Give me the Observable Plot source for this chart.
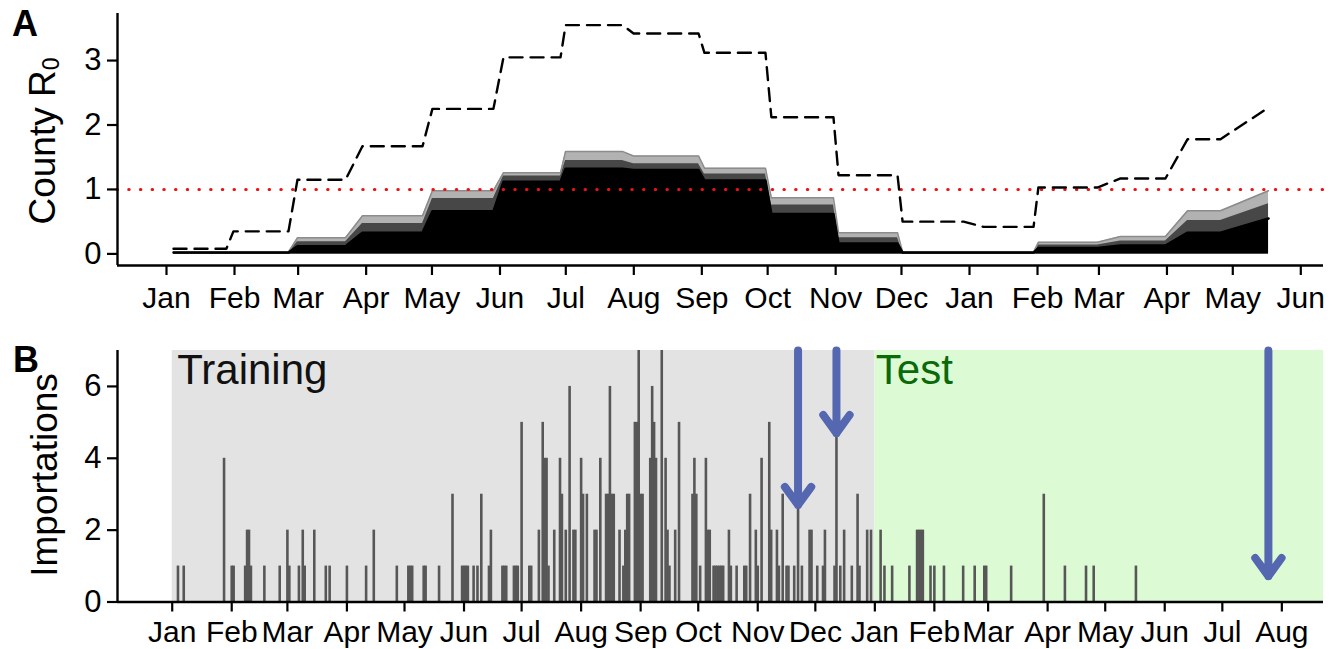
<!DOCTYPE html>
<html><head><meta charset="utf-8">
<script src="https://cdn.jsdelivr.net/npm/d3@7"></script>
<script src="https://cdn.jsdelivr.net/npm/@observablehq/plot@0.6"></script>
<style>
html,body{margin:0;padding:0;background:#fff;}
#fig{position:relative;width:1341px;height:649px;overflow:hidden;background:#fff;}
#fig svg{position:absolute;left:0;display:block;}
</style></head><body><div id="fig"></div>
<script>
// ---------------- data ----------------
const monthNames = ["Jan","Feb","Mar","Apr","May","Jun","Jul","Aug","Sep","Oct","Nov","Dec"];
const ticksA = ["2016-01-01","2016-02-01","2016-03-01","2016-04-01","2016-05-01","2016-06-01","2016-07-01","2016-08-01","2016-09-01","2016-10-01","2016-11-01","2016-12-01","2017-01-01","2017-02-01","2017-03-01","2017-04-01","2017-05-01","2017-06-01"];
const ticksB = ["2016-01-01","2016-02-01","2016-03-01","2016-04-01","2016-05-01","2016-06-01","2016-07-01","2016-08-01","2016-09-01","2016-10-01","2016-11-01","2016-12-01","2017-01-01","2017-02-01","2017-03-01","2017-04-01","2017-05-01","2017-06-01","2017-07-01","2017-08-01"];
const yTicksA = [0, 1, 2, 3];
const yTicksB = [0, 2, 4, 6];

// Panel A: monthly R0 segments (days since 2016-01-01: start and end of each flat segment)
const segStartDay = [3.2, 30.5, 59.7, 89.3, 121.2, 153.6, 181.9, 212.9, 245.2, 275.7, 306.3, 335.5, 372.4, 397.4, 434.8, 465.4, 502.3];
const segEndDay   = [27.3, 55.6, 81.6, 116.7, 149.0, 179.6, 207.8, 242.5, 273.0, 304.0, 333.2, 363.3, 395.2, 424.3, 455.3, 480.4, 502.3];
const r0Max     = [0.08, 0.35, 1.15, 1.67, 2.25, 3.05, 3.55, 3.42, 3.12, 2.12, 1.22, 0.50, 0.42, 1.03, 1.17, 1.78, 2.27];
const bandTop   = [0.03, 0.03, 0.25, 0.59, 0.98, 1.26, 1.59, 1.52, 1.33, 0.87, 0.33, 0.03, 0.03, 0.18, 0.27, 0.67, 0.98];
const bandMid   = [0.02, 0.02, 0.19, 0.47, 0.86, 1.21, 1.45, 1.40, 1.24, 0.76, 0.25, 0.02, 0.02, 0.14, 0.20, 0.52, 0.78];
const bandDense = [0.02, 0.02, 0.12, 0.33, 0.66, 1.12, 1.32, 1.30, 1.14, 0.62, 0.16, 0.02, 0.02, 0.09, 0.13, 0.33, 0.55];
const threshold = 1;

// Panel B: daily importations (days since 2016-01-01, counts)
const importDay = [3,6,27,31,32,38,39,40,41,48,56,60,61,66,68,69,74,80,82,91,101,105,117,123,124,125,131,132,139,
  146,151,152,153,154,157,159,161,165,166,172,173,174,178,179,180,182,186,187,191,193,194,195,196,199,
  202,203,205,207,209,210,213,214,216,220,221,223,226,227,228,229,230,233,235,236,237,238,241,242,243,244,245,
  249,250,251,252,255,257,258,259,262,264,271,272,273,275,278,279,280,282,283,284,285,286,287,290,291,294,
  298,299,301,304,305,307,311,312,315,316,318,320,321,324,326,328,332,333,336,339,340,345,346,348,350,354,357,358,362,364,
  369,371,375,384,388,389,390,391,395,397,402,412,418,423,424,437,454,465,476,480,502];
const importCount = [1,1,4,1,1,1,2,2,1,1,1,2,1,1,2,1,2,1,1,1,1,2,1,1,1,1,1,1,1,
  3,1,1,1,1,1,1,3,1,2,1,1,1,1,1,1,5,1,1,2,5,4,4,1,2,
  4,3,2,6,2,2,4,3,3,2,2,4,3,3,6,3,3,2,1,2,3,3,5,5,7,3,3,
  4,6,5,4,7,4,2,1,2,5,3,4,3,1,4,2,2,1,1,1,1,1,1,2,1,1,
  1,1,3,2,1,4,5,2,2,1,3,1,1,1,3,1,2,2,1,1,2,1,5,1,2,1,3,1,2,2,
  2,1,1,1,2,2,2,2,1,1,1,1,1,1,1,1,3,1,1,1,1];
const periodName  = ["Training", "Test"];
const periodStart = ["2016-01-01", "2017-01-01"];
const arrowDay = [326, 346, 571];
const arrowTip = [2.7, 4.7, 0.72];

// ---------------- helpers ----------------
const t0 = Date.UTC(2016, 0, 1);
const day = d => new Date(t0 + d * 864e5);
const monthFmt = d => monthNames[d.getUTCMonth()];
const intFmt = d => String(d);
const FONT = "'Liberation Sans', Arial, Helvetica, sans-serif";

const bandRows = [];
const r0Rows = [];
segStartDay.forEach((s, i) => {
  const e = segEndDay[i];
  const pts = e > s ? [s, e] : [s];
  pts.forEach(d => {
    bandRows.push({date: day(d), top: bandTop[i], mid: bandMid[i], dense: bandDense[i]});
    r0Rows.push({date: day(d), v: r0Max[i]});
  });
});
const imports = importDay.map((d, i) => ({date: day(d), n: importCount[i]}));
const arrows = arrowDay.map((d, i) => ({date: day(d), tip: arrowTip[i]}));

// ---------------- panel A ----------------
const xDomA = [day(-22.33), day(527.35)];
const yDomA = [-0.18, 3.73];
const plotA = Plot.plot({
  width: 1341, height: 330,
  marginLeft: 117, marginRight: 18, marginTop: 13, marginBottom: 65,
  x: {type: "utc", domain: xDomA},
  y: {domain: yDomA},
  style: {fontFamily: FONT, color: "black", background: "transparent", overflow: "visible"},
  marks: [
    Plot.areaY(bandRows, {x: "date", y1: 0, y2: "top", fill: "black", fillOpacity: 0.3}),
    Plot.areaY(bandRows, {x: "date", y1: 0, y2: "mid", fill: "black", fillOpacity: 0.6}),
    Plot.areaY(bandRows, {x: "date", y1: 0, y2: "dense", fill: "black"}),
    Plot.lineY(bandRows, {x: "date", y: "top", stroke: "#8c8c8c", strokeWidth: 1.5}),
    Plot.lineY(bandRows, {x: "date", y: "dense", stroke: "black", strokeWidth: 2.5}),
    Plot.ruleY([threshold], {stroke: "#ee1111", strokeWidth: 3, strokeDasharray: "0.5 11.2", strokeLinecap: "round"}),
    Plot.lineY(r0Rows, {x: "date", y: "v", stroke: "black", strokeWidth: 2.4, strokeDasharray: "13 8"}),
    Plot.ruleY([yDomA[0]], {stroke: "black", strokeWidth: 2.4}),
    Plot.ruleX([xDomA[0]], {stroke: "black", strokeWidth: 2.4}),
    Plot.axisX({ticks: ticksA.map(s => new Date(s)), tickFormat: monthFmt, tickSize: 10, tickPadding: 11,
      fontSize: 30, strokeWidth: 2.2, label: null}),
    Plot.axisY({ticks: yTicksA, tickFormat: intFmt, tickSize: 10, tickPadding: 6, fontSize: 31, strokeWidth: 2.2, label: null})
  ]
});
plotA.style.top = "0px";

// ---------------- panel B ----------------
const xDomB = [day(-28.5), day(599.7)];
const yDomB = [0, 7];
const plotB = Plot.plot({
  width: 1341, height: 319,
  marginLeft: 117, marginRight: 18, marginTop: 20, marginBottom: 47.5,
  x: {type: "utc", domain: xDomB},
  y: {domain: yDomB},
  style: {fontFamily: FONT, color: "black", background: "transparent", overflow: "visible"},
  marks: [
    Plot.rect([0], {x1: () => new Date(periodStart[0]), x2: () => new Date(periodStart[1]), y1: 0, y2: 7, fill: "#e3e3e3"}),
    Plot.rect([0], {x1: () => new Date(periodStart[1]), x2: () => xDomB[1], y1: 0, y2: 7, fill: "#dcfad4"}),
    Plot.text([0], {x: () => new Date(periodStart[0]), y: 7, text: () => periodName[0], fill: "#111", fontSize: 42,
      textAnchor: "start", lineAnchor: "top", dx: 5, dy: 4}),
    Plot.text([0], {x: () => new Date(periodStart[1]), y: 7, text: () => periodName[1], fill: "#0a6a0a", fontSize: 42,
      textAnchor: "start", lineAnchor: "top", dx: 1, dy: 4}),
    Plot.ruleX(imports, {x: "date", y: "n", stroke: "#575757", strokeWidth: 2.6}),
    Plot.arrow(arrows, {x1: "date", x2: "date", y1: 7, y2: "tip", stroke: "#5467b0", strokeWidth: 8,
      headLength: 4.2, headAngle: 72}),
    Plot.ruleY([0], {stroke: "black", strokeWidth: 2.4}),
    Plot.ruleX([xDomB[0]], {stroke: "black", strokeWidth: 2.4}),
    Plot.axisX({ticks: ticksB.map(s => new Date(s)), tickFormat: monthFmt, tickSize: 10, tickPadding: 9,
      fontSize: 30, strokeWidth: 2.2, label: null}),
    Plot.axisY({ticks: yTicksB, tickFormat: intFmt, tickSize: 10, tickPadding: 6, fontSize: 31, strokeWidth: 2.2, label: null})
  ]
});
plotB.style.top = "330px";

const fig = document.getElementById("fig");
fig.appendChild(plotA);
fig.appendChild(plotB);

// titles and panel letters
const sA = d3.select(plotA), sB = d3.select(plotB);
sA.append("text").attr("x", 12).attr("y", 36).attr("text-anchor", "start").attr("font-size", 36).attr("font-weight", "bold")
  .attr("font-family", FONT).attr("fill", "black").text("A");
const tA = sA.append("text").attr("transform", "translate(55,141) rotate(-90)").attr("text-anchor", "middle")
  .attr("font-size", 37).attr("font-family", FONT).attr("fill", "black");
tA.append("tspan").text("County R");
tA.append("tspan").attr("font-size", 23).attr("dy", 4).text("0");
sB.append("text").attr("x", 13).attr("y", 42).attr("text-anchor", "start").attr("font-size", 36).attr("font-weight", "bold")
  .attr("font-family", FONT).attr("fill", "black").text("B");
sB.append("text").attr("transform", "translate(57,145) rotate(-90)").attr("text-anchor", "middle")
  .attr("font-size", 37).attr("font-family", FONT).attr("fill", "black").text("Importations");
</script></body></html>
